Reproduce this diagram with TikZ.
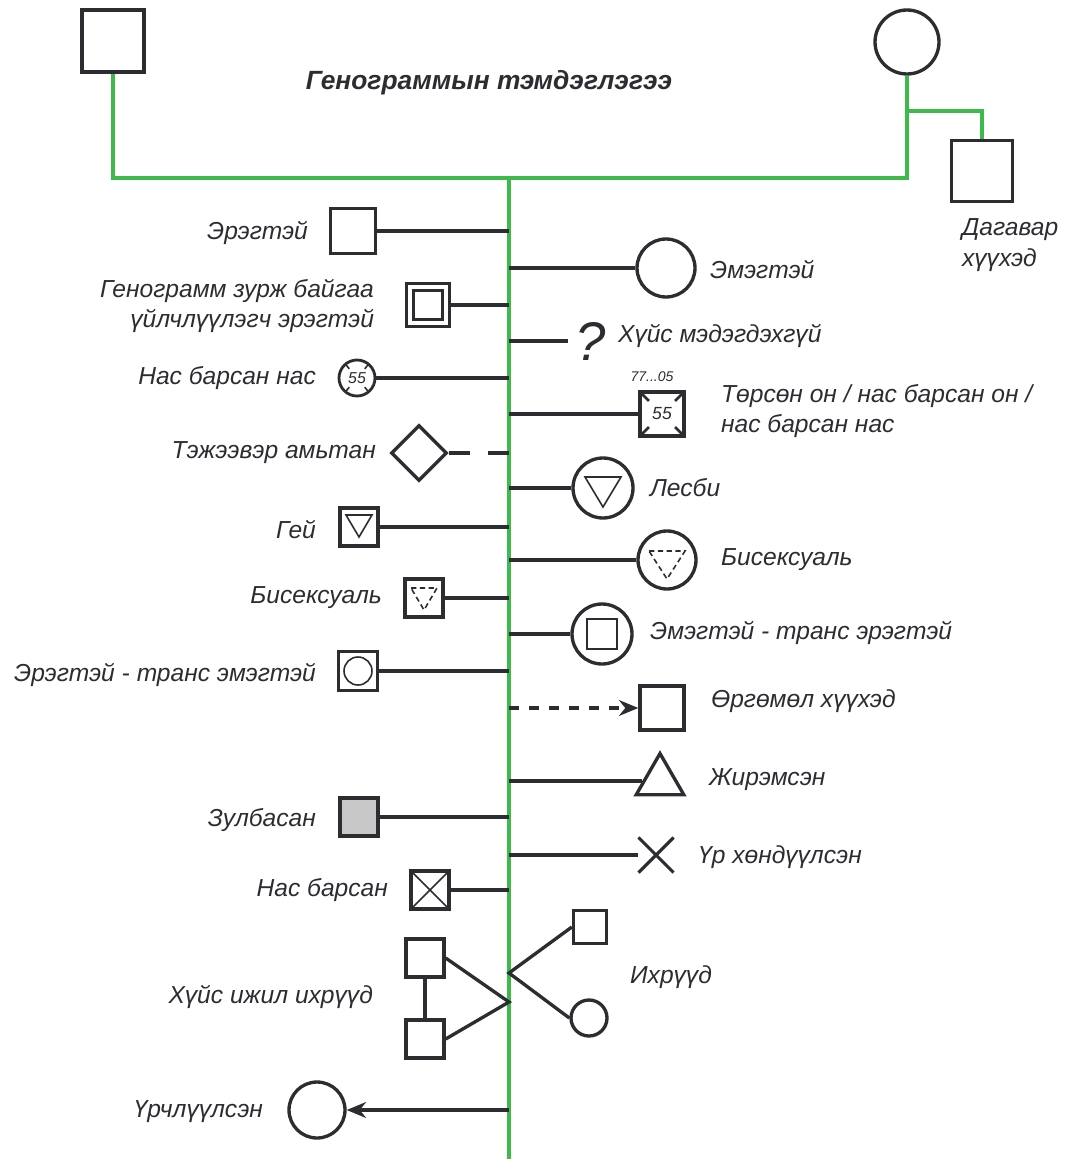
\documentclass[tikz,border=0pt]{standalone}
\usepackage{fontspec}
\setmainfont{Liberation Sans}
\usepackage{xcolor}
\usetikzlibrary{shapes.geometric}
\usetikzlibrary{shapes.misc}
\usetikzlibrary{arrows.meta}
\usetikzlibrary{calc}
\definecolor{ink}{HTML}{2B2D31}
\definecolor{lineage}{HTML}{3DBA4A}
\definecolor{miscarry}{HTML}{C8C8C8}

\begin{document}
\begin{tikzpicture}[x=0.02cm,y=-0.02cm,
  font=\fontsize{14}{17.5}\selectfont\itshape,
  every node/.style={text=ink},
  link/.style={ink,line width=1.9pt},
  trunk/.style={lineage,line width=2pt},
  fine/.style={ink,line width=0.9pt},
  person/.style={draw=ink,line width=1.9pt,inner sep=0pt,fill=white},
  sqr/.style={person,rectangle,minimum size=#1},
  circ/.style={person,circle,minimum size=#1},
  lleft/.style={anchor=east,align=right,inner sep=1pt},
  lright/.style={anchor=west,align=left,inner sep=1pt},
  tip/.style={-{Stealth[length=11pt,width=9pt]}}]
\useasboundingbox (0,0) rectangle (1073,1159);

% parents, step child
\node[sqr=1.24cm] (father) at (113,41) {};
\node[circ=1.28cm] (mother) at (907,42) {};
\node[sqr=1.22cm] (stepkid) at (982,171) {};
\node[font=\fontsize{15}{18}\selectfont\bfseries\itshape] (title) at (489,83) {Генограммын тэмдэглэгээ};
\node[lright] (steplab) at (960,245) {Дагавар\\хүүхэд};
\coordinate (top) at (509,178);
\coordinate (bottom) at (509,1159);
\draw[trunk] (father.south) |- (top) -| (mother.south);
\draw[trunk] (mother.south |- 0,111) -| (stepkid.north);
\draw[trunk] (top) -- (bottom);

% left side
\node[sqr=0.9cm] (male) at (353,231) {};
\node[lleft] (malelab) at (310,233) {Эрэгтэй};
\draw[link] (male.east) -- (male.east -| top);

\node[sqr=0.86cm] (client) at (428,305) {};
\node[sqr=0.58cm] (clientin) at (client.center) {};
\node[lleft] (clientlab) at (376,306) {Генограмм зурж байгаа\\үйлчлүүлэгч эрэгтэй};
\draw[link] (client.east) -- (client.east -| top);

\node[circ=0.72cm,line width=1.6pt] (age) at (357,378) {\fontsize{9}{10}\selectfont 55};
\foreach \a in {50,130,230,310} \draw[fine,shift={(age.center)}] (\a:12) -- (\a:17);
\node[lleft] (agelab) at (318,378) {Нас барсан нас};
\draw[link] (age.east) -- (age.east -| top);

\node[person,diamond,minimum size=1.12cm] (pet) at (419,453) {};
\node[lleft] (petlab) at (378,453) {Тэжээвэр амьтан};
\draw[link,dash pattern=on 0.42cm off 0.36cm on 0.6cm] (pet.east) -- (pet.east -| top);

\node[sqr=0.76cm] (gay) at (359,527) {};
\draw[fine,shift={(gay.center)}] (-13,-12) -- (13,-12) -- (0,10) -- cycle;
\node[lleft] (gaylab) at (318,530) {Гей};
\draw[link] (gay.east) -- (gay.east -| top);

\node[sqr=0.76cm] (bisq) at (424,598) {};
\draw[fine,densely dashed,shift={(bisq.center)}] (-13,-10) -- (13,-10) -- (0,12) -- cycle;
\node[lleft] (bisqlab) at (384,598) {Бисексуаль};
\draw[link] (bisq.east) -- (bisq.east -| top);

\node[sqr=0.78cm] (mtf) at (358,671) {};
\node[circ=0.56cm,line width=0.9pt] (mtfin) at (mtf.center) {};
\node[lleft] (mtflab) at (318,675) {Эрэгтэй - транс эмэгтэй};
\draw[link] (mtf.east) -- (mtf.east -| top);

\node[sqr=0.76cm,fill=miscarry] (misc) at (359,817) {};
\node[lleft] (misclab) at (318,820) {Зулбасан};
\draw[link] (misc.east) -- (misc.east -| top);

\node[sqr=0.76cm] (dead) at (430,890) {};
\draw[fine] (dead.north west) -- (dead.south east);
\draw[fine] (dead.north east) -- (dead.south west);
\node[lleft] (deadlab) at (390,890) {Нас барсан};
\draw[link] (dead.east) -- (dead.east -| top);

\node[sqr=0.76cm] (twinA) at (425,958) {};
\node[sqr=0.76cm] (twinB) at (425,1039) {};
\coordinate (twinfork) at (509,1002);
\draw[link] (twinA) -- (twinB);
\draw[link] (twinA.east) -- (twinfork) -- (twinB.east);
\node[lleft] (twinlab) at (375,997) {Хүйс ижил ихрүүд};

\node[circ=1.12cm] (given) at (317,1110) {};
\node[lleft] (givenlab) at (265,1112) {Үрчлүүлсэн};
\draw[link,tip] (given.east -| top) -- (given.east);

% right side
\node[circ=1.16cm] (female) at (666,268) {};
\node[lright] (femalelab) at (708,270) {Эмэгтэй};
\draw[link] (female.west -| top) -- (female.west);

\coordinate (unk) at (568,341);
\node[font=\fontsize{31}{31}\selectfont\itshape] (qmark) at (591,341) {?};
\node[lright] (unklab) at (616,336) {Хүйс мэдэгдэхгүй};
\draw[link] (unk -| top) -- (unk);

\node[sqr=0.88cm] (dates) at (662,414) {\fontsize{10}{11}\selectfont 55};
\foreach \c in {north west,north east,south west,south east}
  \draw[ink,line width=1.5pt] ($(dates.\c)!0.12!(dates.center)$) -- ($(dates.\c)!0.45!(dates.center)$);
\node[font=\fontsize{8}{9}\selectfont\itshape] (dateslab) at (652,377) {77...05};
\node[lright] (datestext) at (719,411) {Төрсөн он / нас барсан он /\\нас барсан нас};
\draw[link] (dates.west -| top) -- (dates.west);

\node[circ=1.2cm] (lesbi) at (603,488) {};
\draw[fine,shift={(lesbi.center)}] (-18,-11) -- (18,-11) -- (0,19) -- cycle;
\node[lright] (lesbilab) at (648,488) {Лесби};
\draw[link] (lesbi.west -| top) -- (lesbi.west);

\node[circ=1.16cm] (bici) at (667,560) {};
\draw[fine,densely dashed,shift={(bici.center)}] (-18,-9) -- (18,-9) -- (0,19) -- cycle;
\node[lright] (bicilab) at (719,560) {Бисексуаль};
\draw[link] (bici.west -| top) -- (bici.west);

\node[circ=1.2cm] (ftm) at (602,634) {};
\node[sqr=0.6cm,line width=0.9pt] (ftmin) at (ftm.center) {};
\node[lright] (ftmlab) at (648,633) {Эмэгтэй - транс эрэгтэй};
\draw[link] (ftm.west -| top) -- (ftm.west);

\node[sqr=0.88cm] (adopt) at (662,708) {};
\node[lright] (adoptlab) at (709,701) {Өргөмөл хүүхэд};
\draw[link,dash pattern=on 0.2cm off 0.2cm,tip] (adopt.west -| top) -- (adopt.west);

\node[person,regular polygon,regular polygon sides=3,minimum size=1.1cm] (preg) at (660,781) {};
\node[lright] (preglab) at (707,780) {Жирэмсэн};
\draw[link] (preg.180 -| top) -- (preg.180);

\node[cross out,draw=ink,line width=1.8pt,minimum size=0.64cm,inner sep=0pt] (abort) at (656,855) {};
\node[lright] (abortlab) at (696,857) {Үр хөндүүлсэн};
\draw[link] (abort.west -| top) -- (abort.west);

\node[sqr=0.66cm] (sib) at (590,927) {};
\node[circ=0.72cm] (sis) at (589,1018) {};
\coordinate (sibfork) at (509,973);
\draw[link] (sib.west) -- (sibfork) -- (sis.west);
\node[lright] (siblab) at (628,977) {Ихрүүд};
%\draw[help lines,step=50] (0,0) grid (1073,1159);
\end{tikzpicture}
\end{document}
